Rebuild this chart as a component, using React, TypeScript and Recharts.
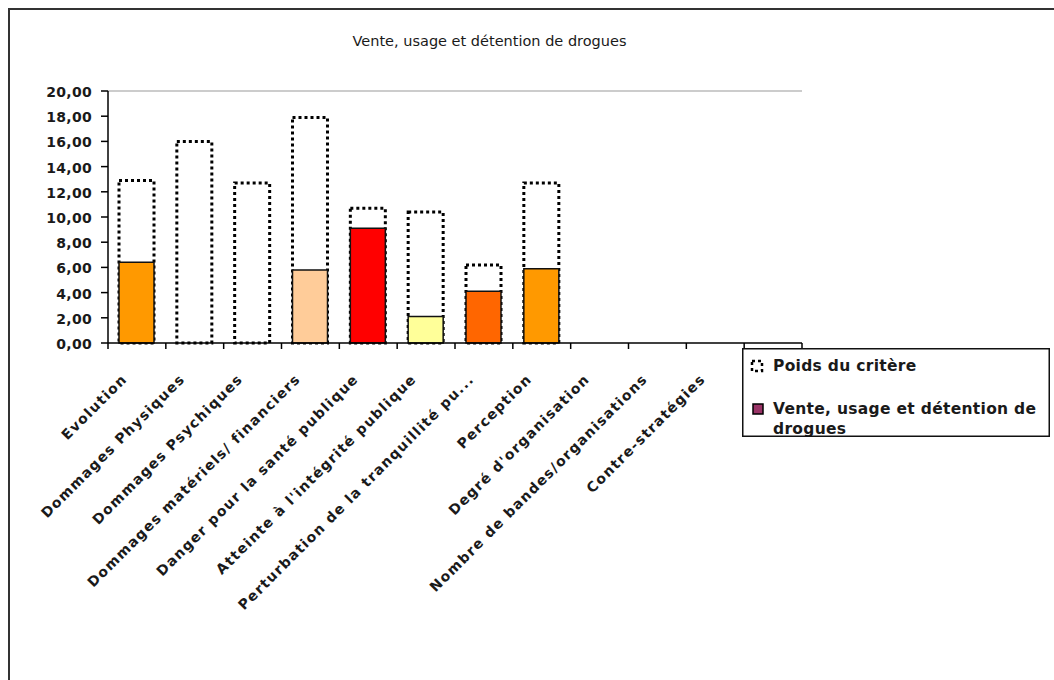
import React from "react";
import { BarChart, Bar, XAxis, YAxis, Cell, ReferenceLine } from "recharts";

const categories = [
  "Evolution",
  "Dommages Physiques",
  "Dommages Psychiques",
  "Dommages matériels/ financiers",
  "Danger pour la santé publique",
  "Atteinte à l'intégrité publique",
  "Perturbation de la tranquillité pu...",
  "Perception",
  "Degré d'organisation",
  "Nombre de bandes/organisations",
  "Contre-stratégies",
  "",
];
const poidsCritere = [12.9, 16.0, 12.7, 17.9, 10.7, 10.4, 6.2, 12.7, 0, 0, 0, 0];
const venteUsage = [6.4, 0, 0, 5.8, 9.1, 2.1, 4.1, 5.9, 0, 0, 0, 0];
const barColors = [
  "#FF9900", "#FFFFFF", "#FFFFFF", "#FFCC99", "#FF0000", "#FFFF99",
  "#FF6600", "#FF9900", "#FF9900", "#FF9900", "#FF9900", "#FF9900",
];
const yTicks = [0, 2, 4, 6, 8, 10, 12, 14, 16, 18, 20];
const title = "Vente, usage et détention de drogues";
const legendPoids = "Poids du critère";
const legendVenteLines = ["Vente, usage et détention de", "drogues"];

const data = categories.map((c, i) => ({
  name: c,
  poids: poidsCritere[i],
  vente: venteUsage[i],
}));

const FONT = "'DejaVu Sans', sans-serif";
const CHART_W = 1044;
const CHART_H = 670;
const PLOT_LEFT = 98;
const PLOT_TOP = 81;
const PLOT_W = 694;
const PLOT_H = 252;
const BAND = PLOT_W / categories.length;
const X_AXIS_H = 100;

const YTick = (props: any) => {
  const { x, y, payload } = props;
  return (
    <text
      x={x}
      y={y}
      dy={6}
      textAnchor="end"
      fontFamily={FONT}
      fontWeight="bold"
      fontSize={14}
      letterSpacing={0.3}
      fill="#1a1a1a"
    >
      {Number(payload.value).toFixed(2).replace(".", ",")}
    </text>
  );
};

const XTick = (props: any) => {
  const { x, y, payload, index } = props;
  const half = BAND / 2;
  const tx = x - 9;
  const ty = y + 37;
  return (
    <g>
      <line x1={x - half} x2={x - half} y1={y} y2={y + 6} stroke="#000" strokeWidth={1.5} />
      {index === categories.length - 1 && (
        <line x1={x + half} x2={x + half} y1={y} y2={y + 6} stroke="#000" strokeWidth={1.5} />
      )}
      <text
        x={tx}
        y={ty}
        transform={`rotate(-45 ${tx} ${ty})`}
        textAnchor="end"
        fontFamily={FONT}
        fontWeight="bold"
        fontSize={14}
        letterSpacing={1.3}
        fill="#1a1a1a"
      >
        {payload.value}
      </text>
    </g>
  );
};

export default function App() {
  return (
    <div style={{ width: 1054, height: 680, paddingLeft: 8, paddingTop: 8, boxSizing: "border-box", overflow: "hidden" }}>
      <style>{"html,body{margin:0;padding:0;overflow:hidden;}"}</style>
      <div
        style={{
          position: "relative",
          width: 1046,
          height: 672,
          borderTop: "2px solid #333",
          borderLeft: "2px solid #333",
          boxSizing: "border-box",
          background: "#fff",
          overflow: "hidden",
          flexShrink: 0,
        }}
      >
        <div
          style={{
            position: "absolute",
            left: 0,
            top: 23,
            width: 959,
            textAlign: "center",
            fontFamily: FONT,
            fontSize: 14.5,
            lineHeight: "17px",
            color: "#1a1a1a",
            whiteSpace: "nowrap",
          }}
        >
          {title}
        </div>
        <BarChart
          width={CHART_W}
          height={CHART_H}
          data={data}
          margin={{
            top: PLOT_TOP,
            right: CHART_W - PLOT_LEFT - PLOT_W,
            left: 0,
            bottom: CHART_H - PLOT_TOP - PLOT_H - X_AXIS_H,
          }}
          barSize={35}
          barGap={-35}
        >
          <XAxis
            dataKey="name"
            height={X_AXIS_H}
            interval={0}
            tickSize={0}
            tickMargin={0}
            tickLine={false}
            axisLine={{ stroke: "#000", strokeWidth: 1.5 }}
            tick={<XTick />}
          />
          <YAxis
            width={PLOT_LEFT}
            domain={[0, 20]}
            ticks={yTicks}
            interval={0}
            tickSize={7}
            tickMargin={9}
            tickLine={{ stroke: "#000", strokeWidth: 1.5 }}
            axisLine={{ stroke: "#000", strokeWidth: 1.5 }}
            tick={<YTick />}
          />
          <YAxis
            yAxisId="right"
            orientation="right"
            width={0}
            domain={[0, 20]}
            tick={false}
            tickLine={false}
            axisLine={{ stroke: "#999", strokeWidth: 1.2 }}
          />
          <ReferenceLine y={20} stroke="#999" strokeWidth={1.2} />
          <Bar
            dataKey="poids"
            fill="#FFFFFF"
            stroke="#000"
            strokeWidth={3}
            strokeDasharray="3 3"
            isAnimationActive={false}
          />
          <Bar dataKey="vente" stroke="#111" strokeWidth={1.5} isAnimationActive={false}>
            {data.map((d, i) => (
              <Cell key={i} fill={barColors[i]} />
            ))}
          </Bar>
        </BarChart>
        <div style={{ position: "absolute", left: 732, top: 338, width: 308, height: 89 }}>
          <svg width={308} height={89} style={{ display: "block", overflow: "visible" }}>
            <rect x={0} y={0} width={308} height={89} fill="#fff" />
            <rect x={10} y={13} width={10} height={10} fill="#fff" stroke="#000" strokeWidth={2.5} strokeDasharray="3 3" />
            <text x={31} y={23} fontFamily={FONT} fontWeight="bold" fontSize={15.5} letterSpacing={0.3} fill="#1a1a1a">
              {legendPoids}
            </text>
            <rect x={11} y={56} width={10} height={10} fill="#993366" stroke="#000" strokeWidth={1.5} />
            {legendVenteLines.map((t, i) => (
              <text key={i} x={31} y={66 + i * 20} fontFamily={FONT} fontWeight="bold" fontSize={15.5} letterSpacing={0.3} fill="#1a1a1a">
                {t}
              </text>
            ))}
            <rect x={0.75} y={0.75} width={306.5} height={87.5} fill="none" stroke="#111" strokeWidth={1.5} />
          </svg>
        </div>
      </div>
    </div>
  );
}
